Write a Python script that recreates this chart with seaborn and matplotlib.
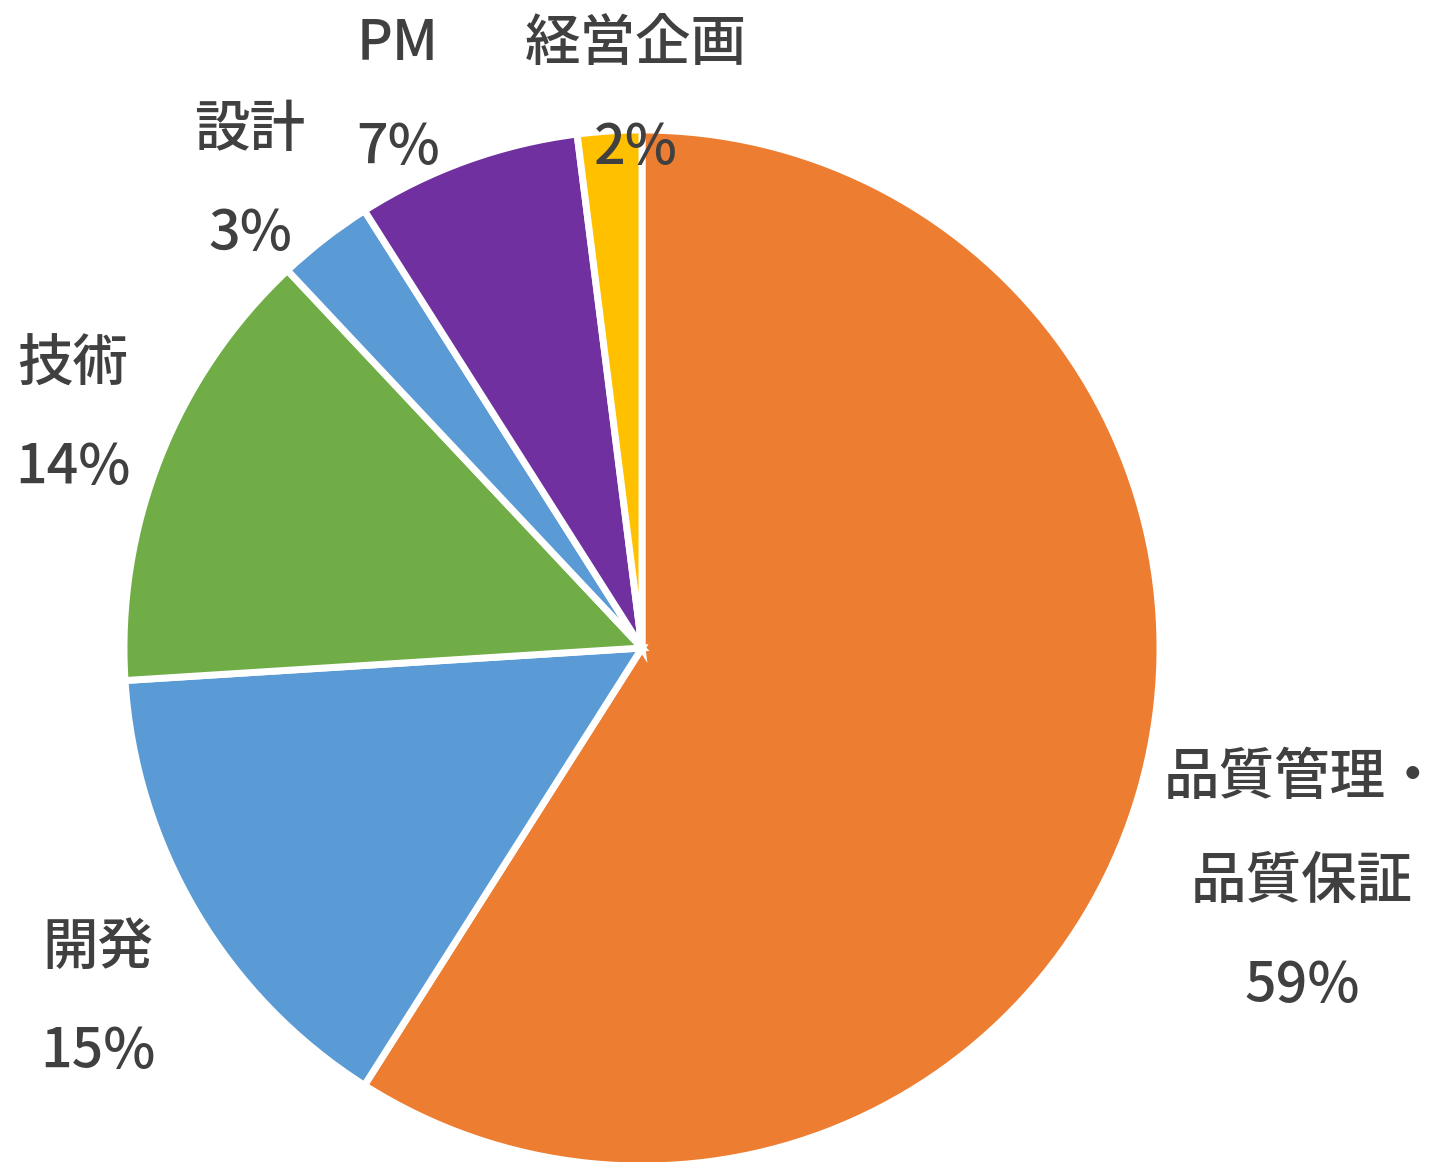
import matplotlib
matplotlib.use("Agg")
import matplotlib.pyplot as plt
import seaborn as sns

sns.set_theme(style="white")
plt.rcParams['font.family'] = ['Noto Sans CJK JP', 'DejaVu Sans']

categories = ["品質管理・\n品質保証", "開発", "技術", "設計", "PM", "経営企画"]
values = [59, 15, 14, 3, 7, 2]
colors = ["#ED7D31", "#5B9BD5", "#70AD47", "#5B9BD5", "#7030A0", "#FFC000"]
# label anchor positions (pixel coords of label block centres)
label_px = [(1302, 882), (98, 1000), (73, 416), (250, 182), (398, 96), (636, 96)]

W, H = 1438, 1162
cx, cy, R = 642, 648, 518

fig = plt.figure(figsize=(W / 100, H / 100), dpi=100)
ax = fig.add_axes([0, 0, 1, 1])
ax.pie(values, colors=colors, startangle=90, counterclock=False, radius=1,
       wedgeprops=dict(edgecolor="white", linewidth=5))
ax.set_xlim(-cx / R, (W - cx) / R)
ax.set_ylim(-(H - cy) / R, cy / R)
ax.set_aspect("equal")
ax.axis("off")

for cat, v, (px, py) in zip(categories, values, label_px):
    txt = f"{cat}\n{v}%"
    ax.text((px - cx) / R, (cy - py) / R, txt, ha="center", va="center",
            fontsize=40, color="#404040", linespacing=2.08, fontweight="medium",
            multialignment="center")

fig.savefig("out.png", dpi=100)
